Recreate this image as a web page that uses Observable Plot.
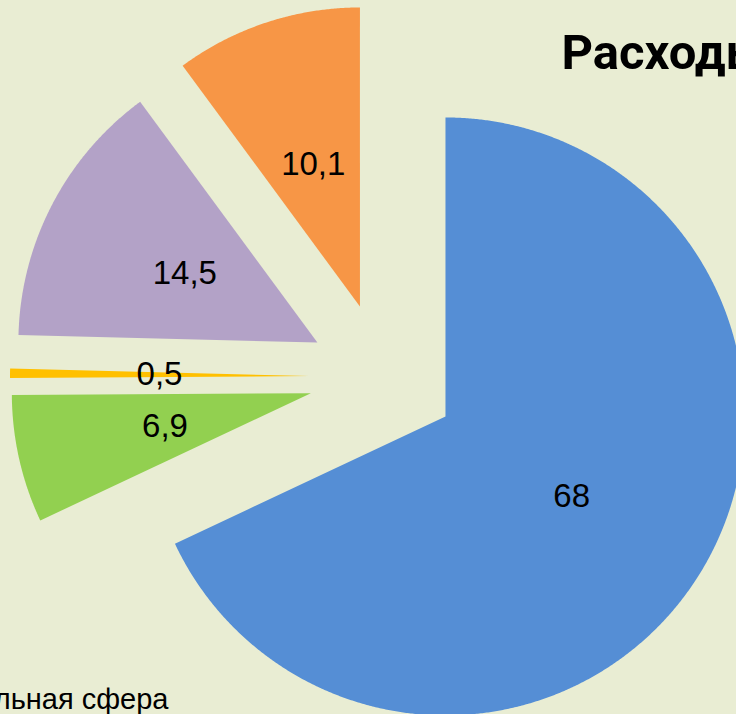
<!DOCTYPE html>
<html>
<head>
<meta charset="utf-8">
<script src="https://cdn.jsdelivr.net/npm/d3@7"></script>
<script src="https://cdn.jsdelivr.net/npm/@observablehq/plot@0.6"></script>
<style>
  html, body { margin: 0; padding: 0; background: #E9EDD3; overflow: hidden; }
</style>
</head>
<body>
<div id="chart"></div>
<script>
// ---- data ----
const categories = ["Социальная сфера", "Национальная экономика", "Национальная безопасность", "Общегосударственные вопросы", "Жилищно-коммунальное хозяйство"];
const values = [68, 6.9, 0.5, 14.5, 10.1];
const valueLabels = ["68", "6,9", "0,5", "14,5", "10,1"];
const colors = ["#558ED5", "#92D050", "#FFC000", "#B3A2C7", "#F79646"];
const titleText = "Расходы бюджета";
const legendText = "Социальная сфера";

// ---- geometry (unit pie, y up, clockwise from 12 o'clock) ----
const R = 1, EXPLODE = 0.2475;
const total = d3.sum(values);
const slicePts = [];
const labelPts = [];
let acc = 0;
values.forEach((v, i) => {
  const a0 = acc / total * 2 * Math.PI;
  acc += v;
  const a1 = acc / total * 2 * Math.PI;
  const am = (a0 + a1) / 2;
  const ox = EXPLODE * Math.sin(am), oy = EXPLODE * Math.cos(am);
  const cat = categories[i];
  slicePts.push({cat, x: ox, y: oy});
  const n = Math.max(2, Math.ceil((a1 - a0) / 0.005));
  for (let k = 0; k <= n; k++) {
    const a = a0 + (a1 - a0) * k / n;
    slicePts.push({cat, x: ox + R * Math.sin(a), y: oy + R * Math.cos(a)});
  }
  labelPts.push({cat, label: valueLabels[i], x: ox + 0.5 * R * Math.sin(am), y: oy + 0.5 * R * Math.cos(am)});
});

const chart = Plot.plot({
  width: 736,
  height: 714,
  margin: 0,
  x: {domain: [-1.2793, 1.1823], axis: null},
  y: {domain: [-1.1294, 1.2585], axis: null},
  color: {domain: categories, range: colors},
  style: {background: "#E9EDD3", overflow: "hidden"},
  marks: [
    Plot.line(slicePts, {x: "x", y: "y", z: "cat", fill: "cat", stroke: "none", curve: "linear"}),
    Plot.text(labelPts, {x: "x", y: "y", text: "label", fontSize: 33, fill: "black", fontFamily: "Liberation Sans, Arial, sans-serif"}),
    Plot.text([titleText], {frameAnchor: "top-left", dx: 561, dy: 68, lineAnchor: "bottom", textAnchor: "start", fontSize: 49, fontWeight: "bold", fill: "black", fontFamily: "Roboto, sans-serif"}),
    Plot.text([legendText], {frameAnchor: "top-left", dx: 168, dy: 708, lineAnchor: "bottom", textAnchor: "end", fontSize: 29, fill: "black", fontFamily: "Liberation Sans, Arial, sans-serif"})
  ]
});
document.getElementById("chart").appendChild(chart);
</script>
</body>
</html>
